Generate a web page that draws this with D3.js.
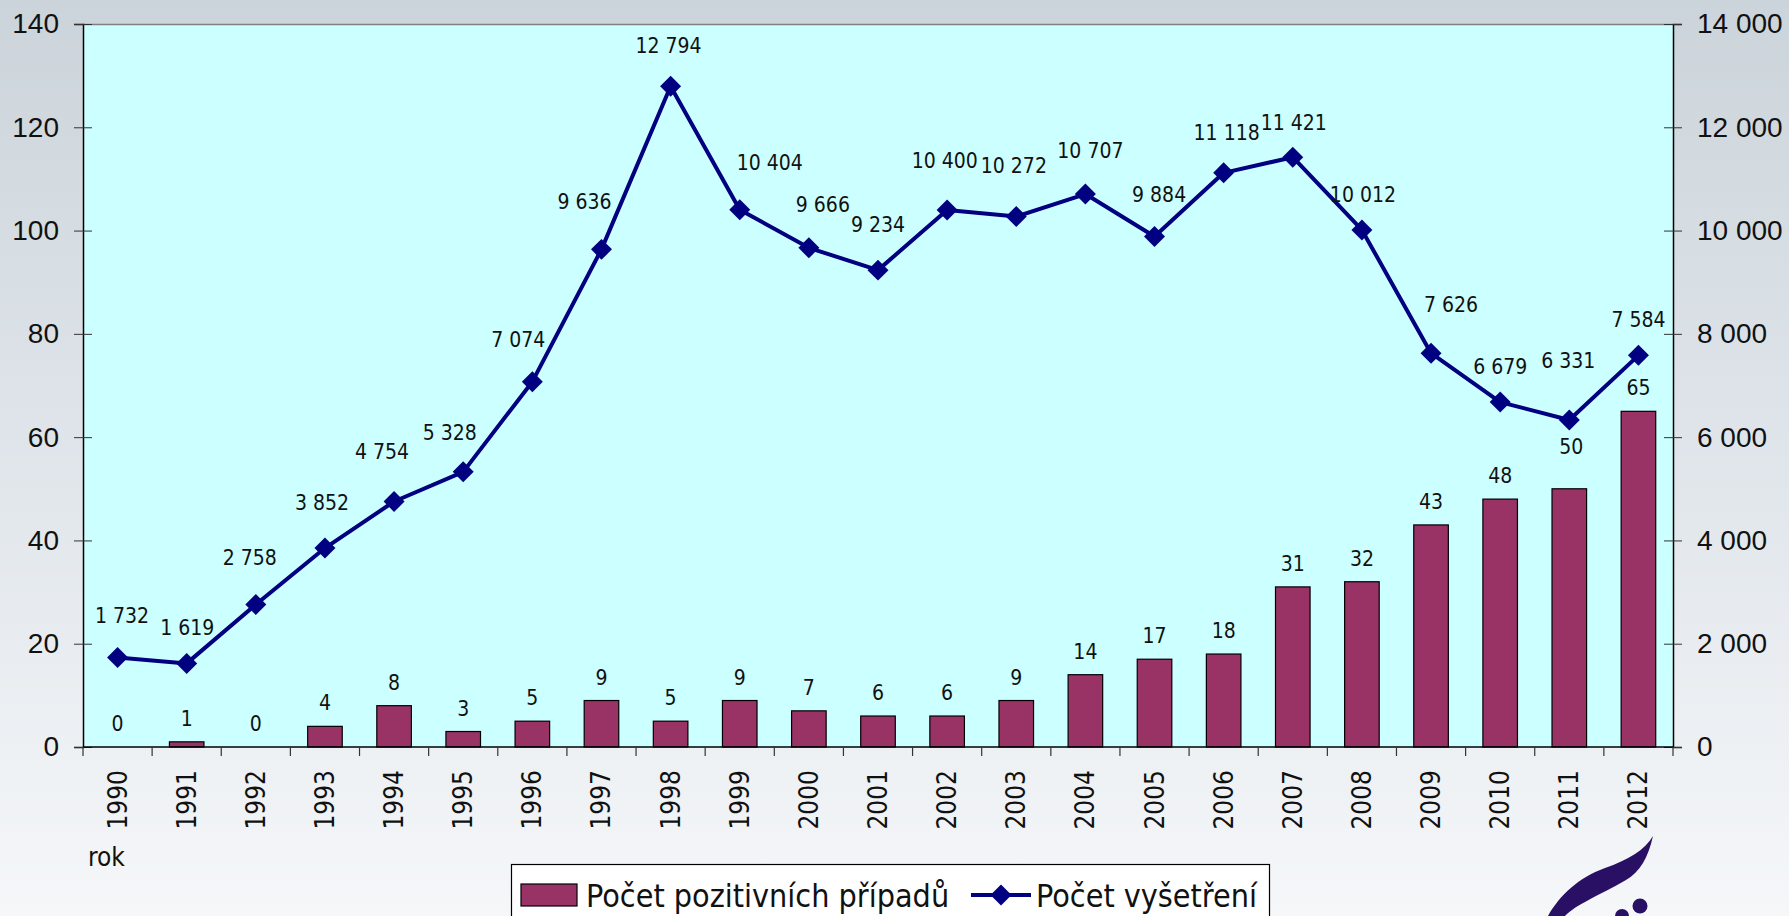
<!DOCTYPE html>
<html><head><meta charset="utf-8">
<script src="https://cdn.jsdelivr.net/npm/d3@7"></script>
<style>
html,body{margin:0;padding:0;overflow:hidden;}
svg{display:block;font-family:"DejaVu Sans Condensed","DejaVu Sans",sans-serif;}
</style></head><body>
<script>
const years = ["1990","1991","1992","1993","1994","1995","1996","1997","1998","1999","2000","2001","2002","2003","2004","2005","2006","2007","2008","2009","2010","2011","2012"];
const positives = [0,1,0,4,8,3,5,9,5,9,7,6,6,9,14,17,18,31,32,43,48,50,65];
const examinations = [1732,1619,2758,3852,4754,5328,7074,9636,12794,10404,9666,9234,10400,10272,10707,9884,11118,11421,10012,7626,6679,6331,7584];
const leftTicks = [0,20,40,60,80,100,120,140];
const rightTicks = [0,2000,4000,6000,8000,10000,12000,14000];
const seriesNames = ["Počet pozitivních případů","Počet vyšetření"];
const axisTitle = "rok";

// layout: label nudges (pixels), kept apart from the data
const lineLabelDx = [4.5,0.5,-6,-3,-12,-13.5,-14,-17,-2,30,14,0,-2.4,-2.4,5,4.6,3,1,1,20,0,-1,0];
const lineLabelDy = [-35,-28,-40,-38,-42,-32,-35,-40,-33,-40,-36,-38,-42,-44,-36,-35,-33,-27,-28,-41,-28,-52,-28];

const W=1789,H=916;
const L=83,R=1673,T=24,B=747;
const svg=d3.select("body").append("svg").attr("width",W).attr("height",H);
const defs=svg.append("defs");
const g=defs.append("linearGradient").attr("id","bg").attr("x1",0).attr("y1",0).attr("x2",0).attr("y2",1);
g.append("stop").attr("offset","0%").attr("stop-color","#cbd4da");
g.append("stop").attr("offset","55%").attr("stop-color","#e2e7ec");
g.append("stop").attr("offset","100%").attr("stop-color","#f5f7f9");
svg.append("rect").attr("width",W).attr("height",H).attr("fill","url(#bg)");

// plot area
svg.append("rect").attr("x",L).attr("y",T).attr("width",R-L).attr("height",B-T).attr("fill","#ccffff");
svg.append("line").attr("x1",L).attr("x2",R).attr("y1",T+0.5).attr("y2",T+0.5).attr("stroke","#808080").attr("stroke-width",1.5);

const x=d3.scaleBand().domain(years).range([L,R]).paddingInner(0.5).paddingOuter(0.25);
const xi=d3.scaleLinear().domain([0,years.length]).range([L,R]);
const yL=d3.scaleLinear().domain([0,140]).range([B,T]);
const yR=d3.scaleLinear().domain([0,14000]).range([B,T]);
const fmt=v=>d3.format(",")(v).replace(/,/g," ");
const cx=d=>x(d)+x.bandwidth()/2;

// bars
svg.append("g").selectAll("rect").data(years).join("rect")
  .attr("x",d=>x(d)).attr("width",x.bandwidth())
  .attr("y",(d,i)=>yL(positives[i])).attr("height",(d,i)=>B-yL(positives[i]))
  .attr("fill","#993366").attr("stroke","#000").attr("stroke-width",1.2);

// left axis
const ax=svg.append("g").attr("transform",`translate(${L},0)`)
  .call(d3.axisLeft(yL).tickValues(leftTicks).tickSize(9).tickPadding(15));
ax.select(".domain").attr("stroke","#000").attr("stroke-width",1.5);
ax.selectAll(".tick line").attr("x1",9).attr("stroke","#333");
ax.selectAll("text").attr("font-size",28).attr("fill","#111").attr("font-family",null);

const ar=svg.append("g").attr("transform",`translate(${R},0)`)
  .call(d3.axisRight(yR).tickValues(rightTicks).tickSize(9).tickPadding(15).tickFormat(fmt));
ar.select(".domain").attr("stroke","#000").attr("stroke-width",1.5);
ar.selectAll(".tick line").attr("x1",-9).attr("stroke","#333");
ar.selectAll("text").attr("font-size",28).attr("fill","#111").attr("font-family",null);

// category axis
svg.append("line").attr("x1",L).attr("x2",R).attr("y1",B).attr("y2",B).attr("stroke","#000").attr("stroke-width",1.5);
svg.append("g").selectAll("line").data(d3.range(years.length+1)).join("line")
  .attr("x1",d=>xi(d)).attr("x2",d=>xi(d)).attr("y1",B).attr("y2",B+9).attr("stroke","#333").attr("stroke-width",1.2);
svg.append("g").selectAll("text").data(years).join("text")
  .attr("transform",d=>`translate(${cx(d)+9},${770}) rotate(-90)`)
  .attr("text-anchor","end").attr("font-size",26).attr("fill","#111").text(d=>d);
svg.append("text").attr("x",88).attr("y",866).attr("font-size",26).attr("fill","#111").text(axisTitle);

// line
const line=d3.line().x((d,i)=>cx(years[i])).y(d=>yR(d));
svg.append("path").datum(examinations).attr("d",line).attr("fill","none").attr("stroke","#000080").attr("stroke-width",4).attr("stroke-linejoin","round");
const diamond=d3.symbol(d3.symbolSquare,220);
svg.append("g").selectAll("path").data(examinations).join("path")
  .attr("d",diamond).attr("fill","#000080")
  .attr("transform",(d,i)=>`translate(${cx(years[i])},${yR(d)}) rotate(45)`);

// labels
svg.append("g").selectAll("text").data(positives).join("text")
  .attr("x",(d,i)=>cx(years[i])+(i===21?2:0))
  .attr("y",(d,i)=>yL(d)-(i===21?35:16))
  .attr("text-anchor","middle").attr("font-size",21).attr("fill","#111").text(d=>d);
svg.append("g").selectAll("text").data(examinations).join("text")
  .attr("x",(d,i)=>cx(years[i])+lineLabelDx[i]).attr("y",(d,i)=>yR(d)+lineLabelDy[i])
  .attr("text-anchor","middle").attr("font-size",21).attr("fill","#111").text(d=>fmt(d));

// legend
const lg=svg.append("g");
lg.append("rect").attr("x",511.5).attr("y",864.5).attr("width",758).attr("height",70).attr("fill","#ffffff").attr("stroke","#000").attr("stroke-width",1.2);
lg.append("rect").attr("x",521).attr("y",884).attr("width",56).attr("height",22).attr("fill","#993366").attr("stroke","#000").attr("stroke-width",1.2);
lg.append("text").attr("x",586).attr("y",907).attr("font-size",32).attr("fill","#111").text(seriesNames[0]);
lg.append("line").attr("x1",971).attr("x2",1031).attr("y1",895).attr("y2",895).attr("stroke","#000080").attr("stroke-width",4);
lg.append("path").attr("d",diamond).attr("fill","#000080").attr("transform","translate(1001,895) rotate(45)");
lg.append("text").attr("x",1036).attr("y",907).attr("font-size",32).attr("fill","#111").text(seriesNames[1]);

// logo
const logo=svg.append("g").attr("fill","#2a1064");
logo.append("path").attr("d","M1653,836 C1648,858 1640,872 1626,880 C1600,895 1575,905 1565,916 L1548,916 C1560,895 1578,878 1605,868 C1628,860 1645,850 1653,836 Z");
logo.append("circle").attr("cx",1640).attr("cy",906).attr("r",7.5);
logo.append("circle").attr("cx",1622).attr("cy",916).attr("r",7);
</script>
</body></html>
